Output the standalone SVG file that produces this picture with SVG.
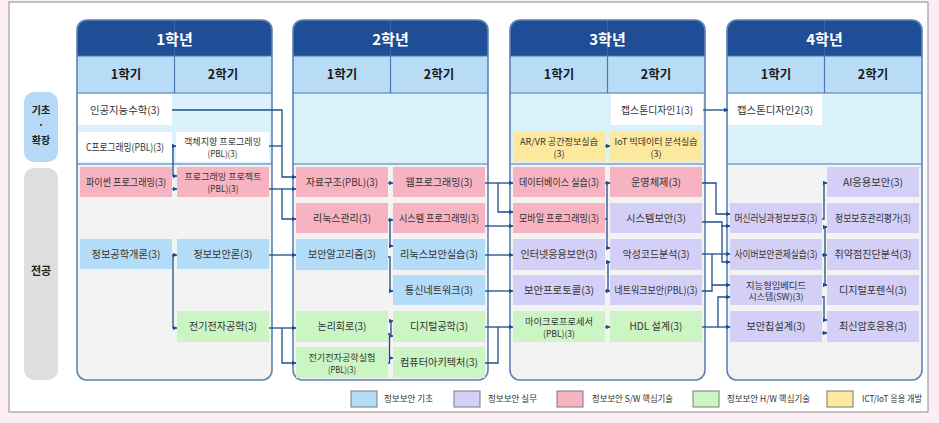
<svg xmlns="http://www.w3.org/2000/svg" width="939" height="423" viewBox="0 0 939 423">
<style>
.t{font-family:"Noto Sans CJK KR","Noto Sans",sans-serif;font-size:10px;fill:#333;text-anchor:middle}
.t2{font-family:"Noto Sans CJK KR","Noto Sans",sans-serif;font-size:9px;fill:#333;text-anchor:middle}
.h{font-family:"Noto Sans CJK KR","Noto Sans",sans-serif;font-size:15px;font-weight:bold;fill:#fff;text-anchor:middle}
.s{font-family:"Noto Sans CJK KR","Noto Sans",sans-serif;font-size:12.5px;font-weight:bold;fill:#1a1a1a;text-anchor:middle}
.p{font-family:"Noto Sans CJK KR","Noto Sans",sans-serif;font-size:11px;font-weight:bold;fill:#222;text-anchor:middle}
.p2{font-family:"Noto Sans CJK KR","Noto Sans",sans-serif;font-size:10px;font-weight:bold;fill:#222;text-anchor:middle}
.lg{font-family:"Noto Sans CJK KR","Noto Sans",sans-serif;font-size:9px;fill:#333}
.bl{fill:#b3dcf8}.pk{fill:#f6b4c3}.pu{fill:#d4cff7}.gr{fill:#cbf5c3}.ye{fill:#fde99d}.wh{fill:#fff}
.hd{fill:#1f4e97}.sm{fill:#b8dcf6}.tb{fill:#dbf1fc}.gb{fill:#f3f3f3}
.ln{stroke:#4b78b2;stroke-width:1.2;fill:none}
.ol{stroke:#5d83b5;stroke-width:1.6;fill:none}
.c{fill:none;stroke:#1d4c8c;stroke-width:1.3;marker-end:url(#a)}
.j{fill:none;stroke:#1d4c8c;stroke-width:1.3}
.lb{stroke:#7a7a7a;stroke-width:1}
</style>
<defs>
<marker id="a" viewBox="0 0 6 6" refX="5.5" refY="3" markerWidth="4.5" markerHeight="4.5" markerUnits="userSpaceOnUse" orient="auto"><path d="M0,0 L6,3 L0,6 z" fill="#1d4c8c"/></marker>
<g id="panel">
<path class="hd" d="M0,56 V30 Q0,20 10,20 H185 Q195,20 195,30 V56 Z"/>
<rect class="sm" x="0" y="56" width="195" height="37"/>
<rect class="tb" x="0" y="93" width="195" height="71"/>
<path class="gb" d="M0,164 H195 V370 Q195,380 185,380 H10 Q0,380 0,370 Z"/>
<line x1="97.5" y1="20" x2="97.5" y2="56" stroke="#3566ad" stroke-width="1"/>
<line class="ln" x1="97.5" y1="56" x2="97.5" y2="93"/>
<line class="ln" x1="0" y1="56" x2="195" y2="56"/>
<line class="ln" x1="0" y1="93" x2="195" y2="93"/>
<line class="ln" x1="0" y1="164" x2="195" y2="164"/>
<rect class="ol" x="0" y="20" width="195" height="360" rx="10"/>
</g>
</defs>
<rect x="0" y="0" width="939" height="423" fill="#fdeef3"/>
<rect x="9" y="2" width="919" height="410" fill="#fff" stroke="#8c8c8c" stroke-width="1"/>

<g id="side-basic"><rect x="24" y="92" width="34" height="70" rx="10" fill="#b6d9f7"/><text class="p2" x="41" y="114">기초</text><text class="p2" x="41" y="129">·</text><text class="p2" x="41" y="144">확장</text></g>
<g id="side-major"><rect x="24" y="168" width="34" height="212" rx="10" fill="#dedede"/><text class="p" x="41" y="275">전공</text></g>

<g id="year1"><use href="#panel" x="77"/><text class="h" x="174.5" y="45">1학년</text><text class="s" x="126" y="79">1학기</text><text class="s" x="223" y="79">2학기</text></g>
<g id="year2"><use href="#panel" x="293"/><text class="h" x="390.5" y="45">2학년</text><text class="s" x="342" y="79">1학기</text><text class="s" x="439" y="79">2학기</text></g>
<g id="year3"><use href="#panel" x="510"/><text class="h" x="607.5" y="45">3학년</text><text class="s" x="559" y="79">1학기</text><text class="s" x="656" y="79">2학기</text></g>
<g id="year4"><use href="#panel" x="727"/><text class="h" x="824.5" y="45">4학년</text><text class="s" x="776" y="79">1학기</text><text class="s" x="873" y="79">2학기</text></g>

<g id="connectors">
<path class="c" d="M172,146 H176"/>
<path class="c" d="M173,146 V176 H177"/>
<path class="c" d="M172,189 H177"/>
<path class="c" d="M172,255 H177"/>
<path class="c" d="M173,255 V328 H177"/>
<path class="c" d="M172,110 H282 V177 H296"/>
<path class="j" d="M269,146 H282"/>
<path class="c" d="M269,189 H296"/>
<path class="c" d="M282,189 V219 H296"/>
<path class="c" d="M269,255 H296"/>
<path class="c" d="M269,328 H296"/>
<path class="c" d="M282,328 V363 H296"/>
<path class="c" d="M388,183 H393"/>
<path class="c" d="M388,220 H393"/>
<path class="c" d="M390,220 V246 H393"/>
<path class="c" d="M388,257 H390 V291 H393"/>
<path class="c" d="M388,334 H391 V321 H393"/>
<path class="c" d="M388,363 H389.5 V336 H393"/>
<path class="c" d="M389.5,358 H393"/>
<path class="c" d="M485,183 H513"/>
<path class="c" d="M498,183 V212 H513"/>
<path class="c" d="M485,226 H513"/>
<path class="c" d="M485,255 H513"/>
<path class="c" d="M485,291 H513"/>
<path class="c" d="M485,327 H513"/>
<path class="j" d="M485,363 H498 V327"/>
<path class="c" d="M605,146 H610"/>
<path class="c" d="M605,183 H610"/>
<path class="c" d="M607,183 V248 H610"/>
<path class="j" d="M605,219 H607"/>
<path class="c" d="M605,291 H610"/>
<path class="c" d="M608,291 V262 H610"/>
<path class="c" d="M605,327 H610"/>
<path class="c" d="M702,110 H728"/>
<path class="c" d="M702,183 H716 V214 H730"/>
<path class="c" d="M702,222 H722 V226 H730"/>
<path class="c" d="M722,226 V262 H730"/>
<path class="c" d="M702,254 H730"/>
<path class="c" d="M712,254 V285 H730"/>
<path class="j" d="M702,291 H712 V285"/>
<path class="c" d="M702,327 H730"/>
<path class="c" d="M718,327 V297 H730"/>
<path class="c" d="M822,219 H824 V183 H827"/>
<path class="c" d="M822,255 H827"/>
<path class="c" d="M825,255 V227 H827"/>
<path class="c" d="M825,255 V285 H827"/>
<path class="c" d="M822,297 H824 V320 H827"/>
<path class="c" d="M822,333 H827"/>
</g>

<g id="n-ai-math"><rect class="wh" x="78" y="94" width="94" height="31"/><text class="t" x="125" y="113.5" textLength="70" lengthAdjust="spacingAndGlyphs">인공지능수학(3)</text></g>
<g id="n-c-prog"><rect class="wh" x="78" y="132" width="94" height="30"/><text class="t" x="125" y="150.5" textLength="78" lengthAdjust="spacingAndGlyphs">C프로그래밍(PBL)(3)</text></g>
<g id="n-oop"><rect class="wh" x="176" y="132" width="93" height="30"/><text class="t2" x="222.5" y="145" textLength="77" lengthAdjust="spacingAndGlyphs">객체지향 프로그래밍</text><text class="t2" x="222.5" y="156.5" textLength="30" lengthAdjust="spacingAndGlyphs">(PBL)(3)</text></g>
<g id="n-python"><rect class="pk" x="80" y="167" width="92" height="30"/><text class="t" x="126" y="185.5" textLength="80" lengthAdjust="spacingAndGlyphs">파이썬 프로그래밍(3)</text></g>
<g id="n-prog-proj"><rect class="pk" x="177" y="167" width="92" height="30"/><text class="t2" x="223" y="180" textLength="77" lengthAdjust="spacingAndGlyphs">프로그래밍 프로젝트</text><text class="t2" x="223" y="191.5" textLength="31" lengthAdjust="spacingAndGlyphs">(PBL)(3)</text></g>
<g id="n-info-eng"><rect class="bl" x="80" y="239" width="92" height="30"/><text class="t" x="126" y="257.5" textLength="69" lengthAdjust="spacingAndGlyphs">정보공학개론(3)</text></g>
<g id="n-info-sec"><rect class="bl" x="177" y="239" width="92" height="30"/><text class="t" x="223" y="257.5" textLength="59" lengthAdjust="spacingAndGlyphs">정보보안론(3)</text></g>
<g id="n-elec"><rect class="gr" x="177" y="311" width="92" height="31"/><text class="t" x="223" y="330" textLength="68" lengthAdjust="spacingAndGlyphs">전기전자공학(3)</text></g>

<g id="n-ds"><rect class="pk" x="296" y="167" width="92" height="30"/><text class="t" x="342" y="185.5" textLength="72" lengthAdjust="spacingAndGlyphs">자료구조(PBL)(3)</text></g>
<g id="n-web"><rect class="pk" x="393" y="167" width="92" height="30"/><text class="t" x="439" y="185.5" textLength="67" lengthAdjust="spacingAndGlyphs">웹프로그래밍(3)</text></g>
<g id="n-linux"><rect class="pk" x="296" y="203" width="92" height="30"/><text class="t" x="342" y="221.5" textLength="58" lengthAdjust="spacingAndGlyphs">리눅스관리(3)</text></g>
<g id="n-sysprog"><rect class="pk" x="393" y="203" width="92" height="30"/><text class="t" x="439" y="221.5" textLength="80" lengthAdjust="spacingAndGlyphs">시스템 프로그래밍(3)</text></g>
<g id="n-secalg"><rect class="bl" x="296" y="239" width="92" height="31"/><text class="t" x="342" y="258" textLength="68" lengthAdjust="spacingAndGlyphs">보안알고리즘(3)</text></g>
<g id="n-linuxsec"><rect class="bl" x="393" y="239" width="92" height="31"/><text class="t" x="439" y="258" textLength="78" lengthAdjust="spacingAndGlyphs">리눅스보안실습(3)</text></g>
<g id="n-comnet"><rect class="bl" x="393" y="275" width="92" height="30"/><text class="t" x="439" y="293.5" textLength="68" lengthAdjust="spacingAndGlyphs">통신네트워크(3)</text></g>
<g id="n-logic"><rect class="gr" x="296" y="311" width="92" height="31"/><text class="t" x="342" y="330" textLength="49" lengthAdjust="spacingAndGlyphs">논리회로(3)</text></g>
<g id="n-digital"><rect class="gr" x="393" y="311" width="92" height="31"/><text class="t" x="439" y="330" textLength="58" lengthAdjust="spacingAndGlyphs">디지털공학(3)</text></g>
<g id="n-elec-lab"><rect class="gr" x="296" y="347" width="92" height="31"/><text class="t2" x="342" y="361" textLength="67" lengthAdjust="spacingAndGlyphs">전기전자공학실험</text><text class="t2" x="342" y="372.5" textLength="28" lengthAdjust="spacingAndGlyphs">(PBL)(3)</text></g>
<g id="n-arch"><rect class="gr" x="393" y="347" width="92" height="31"/><text class="t" x="439" y="366" textLength="78" lengthAdjust="spacingAndGlyphs">컴퓨터아키텍처(3)</text></g>

<g id="n-cap1"><rect class="wh" x="611" y="94" width="92" height="31"/><text class="t" x="657" y="113.5" textLength="72" lengthAdjust="spacingAndGlyphs">캡스톤디자인1(3)</text></g>
<g id="n-arvr"><rect class="ye" x="513" y="132" width="92" height="30"/><text class="t2" x="559" y="145" textLength="78" lengthAdjust="spacingAndGlyphs">AR/VR 공간정보실습</text><text class="t2" x="559" y="156.5">(3)</text></g>
<g id="n-iot"><rect class="ye" x="610" y="132" width="92" height="30"/><text class="t2" x="656" y="145" textLength="83" lengthAdjust="spacingAndGlyphs">IoT 빅데이터 분석실습</text><text class="t2" x="656" y="156.5">(3)</text></g>
<g id="n-db"><rect class="pk" x="513" y="167" width="92" height="30"/><text class="t" x="559" y="185.5" textLength="80" lengthAdjust="spacingAndGlyphs">데이터베이스 실습(3)</text></g>
<g id="n-os"><rect class="pk" x="610" y="167" width="92" height="30"/><text class="t" x="656" y="185.5" textLength="50" lengthAdjust="spacingAndGlyphs">운영체제(3)</text></g>
<g id="n-mobile"><rect class="pk" x="513" y="203" width="92" height="30"/><text class="t" x="559" y="221.5" textLength="80" lengthAdjust="spacingAndGlyphs">모바일 프로그래밍(3)</text></g>
<g id="n-syssec"><rect class="pu" x="610" y="203" width="92" height="30"/><text class="t" x="656" y="221.5" textLength="60" lengthAdjust="spacingAndGlyphs">시스템보안(3)</text></g>
<g id="n-websec"><rect class="pu" x="513" y="239" width="92" height="31"/><text class="t" x="559" y="258" textLength="77" lengthAdjust="spacingAndGlyphs">인터넷응용보안(3)</text></g>
<g id="n-malware"><rect class="pu" x="610" y="239" width="92" height="31"/><text class="t" x="656" y="258" textLength="67" lengthAdjust="spacingAndGlyphs">악성코드분석(3)</text></g>
<g id="n-protocol"><rect class="pu" x="513" y="275" width="92" height="30"/><text class="t" x="559" y="293.5" textLength="70" lengthAdjust="spacingAndGlyphs">보안프로토콜(3)</text></g>
<g id="n-netsec"><rect class="pu" x="610" y="275" width="92" height="30"/><text class="t" x="656" y="293.5" textLength="83" lengthAdjust="spacingAndGlyphs">네트워크보안(PBL)(3)</text></g>
<g id="n-micro"><rect class="gr" x="513" y="311" width="92" height="31"/><text class="t2" x="559" y="325" textLength="68" lengthAdjust="spacingAndGlyphs">마이크로프로세서</text><text class="t2" x="559" y="336.5" textLength="32" lengthAdjust="spacingAndGlyphs">(PBL)(3)</text></g>
<g id="n-hdl"><rect class="gr" x="610" y="311" width="92" height="31"/><text class="t" x="656" y="330" textLength="53" lengthAdjust="spacingAndGlyphs">HDL 설계(3)</text></g>

<g id="n-cap2"><rect class="wh" x="728" y="94" width="94" height="31"/><text class="t" x="775" y="113.5" textLength="76" lengthAdjust="spacingAndGlyphs">캡스톤디자인2(3)</text></g>
<g id="n-aisec"><rect class="pu" x="827" y="167" width="92" height="30"/><text class="t" x="873" y="185.5" textLength="60" lengthAdjust="spacingAndGlyphs">AI응용보안(3)</text></g>
<g id="n-ml"><rect class="pu" x="730" y="203" width="92" height="30"/><text class="t" x="776" y="221.5" textLength="83" lengthAdjust="spacingAndGlyphs">머신러닝과정보보호(3)</text></g>
<g id="n-mgmt"><rect class="pu" x="827" y="203" width="92" height="30"/><text class="t" x="873" y="221.5" textLength="76" lengthAdjust="spacingAndGlyphs">정보보호관리평가(3)</text></g>
<g id="n-soc"><rect class="pu" x="730" y="239" width="92" height="31"/><text class="t" x="776" y="258" textLength="83" lengthAdjust="spacingAndGlyphs">사이버보안관제실습(3)</text></g>
<g id="n-vuln"><rect class="pu" x="827" y="239" width="92" height="31"/><text class="t" x="873" y="258" textLength="77" lengthAdjust="spacingAndGlyphs">취약점진단분석(3)</text></g>
<g id="n-embedded"><rect class="pu" x="730" y="275" width="92" height="30"/><text class="t2" x="776" y="288.5" textLength="60" lengthAdjust="spacingAndGlyphs">지능형임베디드</text><text class="t2" x="776" y="300" textLength="55" lengthAdjust="spacingAndGlyphs">시스템(SW)(3)</text></g>
<g id="n-forensic"><rect class="pu" x="827" y="275" width="92" height="30"/><text class="t" x="873" y="293.5" textLength="68" lengthAdjust="spacingAndGlyphs">디지털포렌식(3)</text></g>
<g id="n-chip"><rect class="pu" x="730" y="311" width="92" height="31"/><text class="t" x="776" y="330" textLength="59" lengthAdjust="spacingAndGlyphs">보안칩설계(3)</text></g>
<g id="n-crypto"><rect class="pu" x="827" y="311" width="92" height="31"/><text class="t" x="873" y="330" textLength="68" lengthAdjust="spacingAndGlyphs">최신암호응용(3)</text></g>

<g id="legend">
<rect class="bl lb" x="351" y="391" width="26" height="16"/><text class="lg" x="384" y="402" textLength="49" lengthAdjust="spacingAndGlyphs">정보보안 기초</text>
<rect class="pu lb" x="454" y="391" width="26" height="16"/><text class="lg" x="488" y="402" textLength="49" lengthAdjust="spacingAndGlyphs">정보보안 실무</text>
<rect class="pk lb" x="557" y="391" width="26" height="16"/><text class="lg" x="592" y="402" textLength="81" lengthAdjust="spacingAndGlyphs">정보보안 S/W 핵심기술</text>
<rect class="gr lb" x="693" y="391" width="26" height="16"/><text class="lg" x="727" y="402" textLength="83" lengthAdjust="spacingAndGlyphs">정보보안 H/W 핵심기술</text>
<rect class="ye lb" x="827" y="391" width="26" height="16"/><text class="lg" x="862" y="402" textLength="60" lengthAdjust="spacingAndGlyphs">ICT/IoT 응용 개발</text>
</g>
</svg>
